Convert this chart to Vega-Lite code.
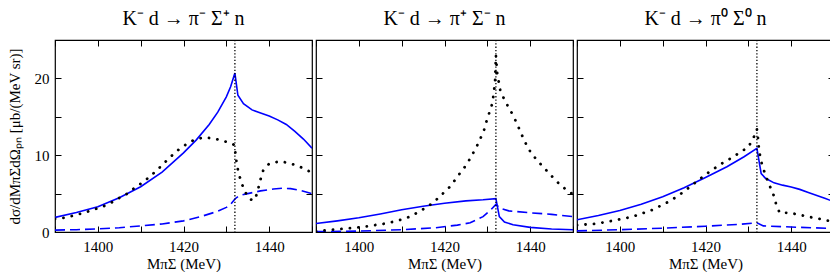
{
 "$schema": "https://vega.github.io/schema/vega-lite/v6.json",
 "padding": {"left": 6, "top": 8, "right": 0, "bottom": 0},
 "spacing": 0,
 "config": {
  "view": {"stroke": "black", "strokeWidth": 1.2},
  "axis": {"labelFont": "Liberation Serif", "titleFont": "Liberation Serif", "labelFontSize": 15, "titleFontSize": 15, "titleFontWeight": "normal", "labelColor": "black", "titleColor": "black", "tickColor": "black", "grid": false, "domain": false, "tickWidth": 1},
  "title": {"font": "Liberation Serif", "fontSize": 20, "fontWeight": "normal", "color": "black", "offset": 10}
 },
 "datasets": {
  "p1s": [{"x":1390,"y":1.9},{"x":1395,"y":2.55},{"x":1400,"y":3.3},{"x":1405,"y":4.45},{"x":1410,"y":5.9},{"x":1415,"y":7.8},{"x":1420,"y":10.3},{"x":1423,"y":12.0},{"x":1426,"y":14.0},{"x":1428,"y":15.6},{"x":1430,"y":17.6},{"x":1431,"y":18.9},{"x":1432,"y":20.7},{"x":1432.7,"y":17.8},{"x":1434,"y":16.7},{"x":1436,"y":15.9},{"x":1438,"y":15.5},{"x":1440,"y":15.1},{"x":1442,"y":14.6},{"x":1444,"y":14.0},{"x":1446,"y":13.1},{"x":1448,"y":12.1},{"x":1450,"y":10.9}],
  "p1d": [{"x":1390,"y":0.25},{"x":1395,"y":0.3},{"x":1400,"y":0.4},{"x":1405,"y":0.55},{"x":1410,"y":0.8},{"x":1415,"y":1.05},{"x":1420,"y":1.45},{"x":1424,"y":2.0},{"x":1428,"y":2.7},{"x":1430,"y":3.2},{"x":1431,"y":3.6},{"x":1432,"y":4.3},{"x":1433,"y":4.75},{"x":1435,"y":5.0},{"x":1438,"y":5.35},{"x":1441,"y":5.6},{"x":1443,"y":5.7},{"x":1445,"y":5.65},{"x":1447,"y":5.45},{"x":1450,"y":5.0}],
  "p1o": [{"x":1390,"y":1.7},{"x":1392.7,"y":1.9},{"x":1394.7,"y":2.2},{"x":1396.8,"y":2.5},{"x":1398.9,"y":2.9},{"x":1401.1,"y":3.3},{"x":1403.1,"y":3.8},{"x":1404.9,"y":4.4},{"x":1406.9,"y":5.0},{"x":1408.7,"y":5.8},{"x":1410.6,"y":6.5},{"x":1412.3,"y":7.3},{"x":1413.9,"y":8.1},{"x":1415.5,"y":9.0},{"x":1417.2,"y":9.9},{"x":1418.8,"y":10.7},{"x":1420.6,"y":11.4},{"x":1422.5,"y":12.0},{"x":1424.6,"y":12.3},{"x":1427,"y":12.2},{"x":1428.9,"y":11.9},{"x":1431.1,"y":11.6},{"x":1431.9,"y":11.3},{"x":1432.2,"y":9.9},{"x":1432.5,"y":8.6},{"x":1433,"y":7.4},{"x":1433.6,"y":6.3},{"x":1434.4,"y":5.2},{"x":1435.4,"y":4.3},{"x":1436.4,"y":4.1},{"x":1437.2,"y":5.0},{"x":1437.8,"y":6.5},{"x":1438.6,"y":8.0},{"x":1440,"y":8.9},{"x":1442.5,"y":9.2},{"x":1444.5,"y":9.0},{"x":1446.8,"y":8.6},{"x":1449,"y":8.0},{"x":1450,"y":7.7}],
  "p2s": [{"x":1390,"y":1.1},{"x":1395,"y":1.45},{"x":1400,"y":1.85},{"x":1405,"y":2.35},{"x":1410,"y":2.9},{"x":1415,"y":3.35},{"x":1420,"y":3.75},{"x":1425,"y":4.05},{"x":1429,"y":4.2},{"x":1432,"y":4.35},{"x":1432.8,"y":2.0},{"x":1434,"y":1.3},{"x":1436,"y":0.95},{"x":1440,"y":0.6},{"x":1445,"y":0.4},{"x":1450,"y":0.3}],
  "p2d": [{"x":1390,"y":0.05},{"x":1400,"y":0.12},{"x":1410,"y":0.3},{"x":1418,"y":0.55},{"x":1423,"y":0.9},{"x":1426,"y":1.2},{"x":1429,"y":2.0},{"x":1431,"y":3.0},{"x":1432,"y":3.6},{"x":1433,"y":3.1},{"x":1435,"y":2.75},{"x":1440,"y":2.5},{"x":1445,"y":2.3},{"x":1450,"y":2.0}],
  "p2o": [{"x":1390,"y":0.1},{"x":1392.8,"y":0.26},{"x":1395.1,"y":0.35},{"x":1397.3,"y":0.48},{"x":1399.4,"y":0.56},{"x":1401.5,"y":0.7},{"x":1403.7,"y":0.9},{"x":1405.9,"y":1.08},{"x":1408.1,"y":1.34},{"x":1410.2,"y":1.65},{"x":1412.3,"y":2.08},{"x":1414.2,"y":2.7},{"x":1416.1,"y":3.3},{"x":1417.9,"y":4.1},{"x":1419.6,"y":5.0},{"x":1421.1,"y":5.8},{"x":1422.5,"y":6.8},{"x":1423.8,"y":7.8},{"x":1425.2,"y":8.8},{"x":1426.3,"y":9.9},{"x":1427.4,"y":11.0},{"x":1428.4,"y":12.2},{"x":1429.2,"y":13.2},{"x":1429.8,"y":14.4},{"x":1430.5,"y":15.6},{"x":1431.2,"y":16.8},{"x":1431.5,"y":18.1},{"x":1431.8,"y":19.5},{"x":1432,"y":23.0},{"x":1432.3,"y":20.7},{"x":1433,"y":18.5},{"x":1434,"y":17.2},{"x":1435,"y":16.2},{"x":1436,"y":15.2},{"x":1437,"y":14.0},{"x":1438,"y":12.7},{"x":1439,"y":11.5},{"x":1440,"y":10.5},{"x":1441.5,"y":9.4},{"x":1443,"y":8.5},{"x":1444.5,"y":7.6},{"x":1446,"y":6.7},{"x":1447.5,"y":5.9},{"x":1449,"y":5.3},{"x":1450,"y":4.9}],
  "p3s": [{"x":1390,"y":1.6},{"x":1395,"y":2.15},{"x":1400,"y":2.8},{"x":1405,"y":3.6},{"x":1410,"y":4.6},{"x":1415,"y":5.75},{"x":1420,"y":7.1},{"x":1425,"y":8.5},{"x":1429,"y":9.8},{"x":1432,"y":10.9},{"x":1433,"y":7.6},{"x":1434,"y":7.0},{"x":1436,"y":6.4},{"x":1438,"y":6.1},{"x":1440,"y":5.85},{"x":1442,"y":5.55},{"x":1444,"y":5.15},{"x":1446,"y":4.75},{"x":1448,"y":4.35},{"x":1450,"y":3.95}],
  "p3d": [{"x":1390,"y":0.15},{"x":1400,"y":0.3},{"x":1410,"y":0.5},{"x":1420,"y":0.75},{"x":1428,"y":1.0},{"x":1432,"y":1.2},{"x":1433.5,"y":0.8},{"x":1440,"y":0.65},{"x":1450,"y":0.45}],
  "p3o": [{"x":1390,"y":0.9},{"x":1392.6,"y":1.0},{"x":1394.7,"y":1.1},{"x":1397,"y":1.34},{"x":1399.2,"y":1.56},{"x":1401.4,"y":1.8},{"x":1403.5,"y":2.1},{"x":1405.6,"y":2.5},{"x":1407.7,"y":2.9},{"x":1409.8,"y":3.5},{"x":1411.6,"y":4.0},{"x":1413.6,"y":4.7},{"x":1415.5,"y":5.5},{"x":1417.1,"y":6.2},{"x":1418.9,"y":7.0},{"x":1420.6,"y":7.7},{"x":1422.4,"y":8.4},{"x":1424.3,"y":9.1},{"x":1426.3,"y":9.7},{"x":1428.1,"y":10.4},{"x":1429.9,"y":11.0},{"x":1431.1,"y":12.1},{"x":1432,"y":13.4},{"x":1432.3,"y":12.0},{"x":1432.5,"y":10.7},{"x":1432.9,"y":9.4},{"x":1433.4,"y":8.4},{"x":1434.2,"y":7.1},{"x":1435,"y":6.0},{"x":1435.9,"y":4.8},{"x":1436.5,"y":3.6},{"x":1437.3,"y":2.5},{"x":1439.4,"y":2.5},{"x":1441.6,"y":2.3},{"x":1443.8,"y":2.0},{"x":1446,"y":1.8},{"x":1448.2,"y":1.5},{"x":1450,"y":1.4}]
 },
 "hconcat": [
  {
   "width": 257, "height": 192,
   "title": "K⁻ d → π⁻ Σ⁺ n",
   "layer": [
    {"data": {"name": "p1s"}, "mark": {"type": "line", "color": "#0000ff", "strokeWidth": 1.6, "clip": true},
     "encoding": {
      "x": {"field": "x", "type": "quantitative", "scale": {"domain": [1390, 1450], "nice": false, "zero": false},
            "axis": {"orient": "bottom", "values": [1390,1400,1410,1420,1430,1440,1450], "format": "d", "labelExpr": "datum.value % 20 == 0 ? datum.label : ''", "tickSize": -6, "labelPadding": 13, "title": "MπΣ (MeV)", "titlePadding": 2, "labelFont": "Liberation Serif", "titleFont": "Liberation Serif"}},
      "y": {"field": "y", "type": "quantitative", "scale": {"domain": [0, 25], "nice": false},
            "axis": {"orient": "left", "values": [0,5,10,15,20,25], "labelExpr": "datum.value % 10 == 0 ? datum.label : ''", "tickSize": -6, "labelPadding": 12, "titlePadding": 12, "title": "dσ/dMπΣdΩₚₙ [μb/(MeV sr)]", "labelFont": "Liberation Serif", "titleFont": "Liberation Serif"}}}},
    {"data": {"name": "p1d"}, "mark": {"type": "line", "color": "#0000ff", "strokeWidth": 1.6, "strokeDash": [10, 5], "clip": true},
     "encoding": {"x": {"field": "x", "type": "quantitative", "axis": null}, "y": {"field": "y", "type": "quantitative", "axis": null}}},
    {"data": {"name": "p1o"}, "mark": {"type": "line", "color": "black", "strokeWidth": 2.8, "strokeDash": [0.1, 8.4], "strokeCap": "round", "clip": true},
     "encoding": {"x": {"field": "x", "type": "quantitative", "axis": null}, "y": {"field": "y", "type": "quantitative", "axis": null}}},
    {"data": {"values": [{"x": 1432}]}, "mark": {"type": "rule", "color": "black", "strokeWidth": 1.3, "strokeDash": [1.3, 2]},
     "encoding": {"x": {"field": "x", "type": "quantitative", "axis": null}}},
    {"data": {"name": "p1s"}, "mark": {"type": "line", "opacity": 0},
     "encoding": {
      "x": {"field": "x", "type": "quantitative", "axis": {"orient": "top", "values": [1390,1400,1410,1420,1430,1440,1450], "labels": false, "tickSize": -6, "title": null}},
      "y": {"field": "y", "type": "quantitative", "axis": {"orient": "right", "values": [0,5,10,15,20,25], "labels": false, "tickSize": -6, "title": null}}}}
   ],
   "resolve": {"axis": {"x": "independent", "y": "independent"}}
  },
  {
   "width": 257, "height": 192,
   "title": "K⁻ d → π⁺ Σ⁻ n",
   "layer": [
    {"data": {"name": "p2s"}, "mark": {"type": "line", "color": "#0000ff", "strokeWidth": 1.6, "clip": true},
     "encoding": {
      "x": {"field": "x", "type": "quantitative", "scale": {"domain": [1390, 1450], "nice": false, "zero": false},
            "axis": {"orient": "bottom", "values": [1390,1400,1410,1420,1430,1440,1450], "format": "d", "labelExpr": "datum.value % 20 == 0 ? datum.label : ''", "tickSize": -6, "labelPadding": 13, "title": "MπΣ (MeV)", "titlePadding": 2, "labelFont": "Liberation Serif", "titleFont": "Liberation Serif"}},
      "y": {"field": "y", "type": "quantitative", "scale": {"domain": [0, 25], "nice": false},
            "axis": {"orient": "left", "values": [0,5,10,15,20,25], "labels": false, "tickSize": -6, "title": null}}}},
    {"data": {"name": "p2d"}, "mark": {"type": "line", "color": "#0000ff", "strokeWidth": 1.6, "strokeDash": [10, 5], "clip": true},
     "encoding": {"x": {"field": "x", "type": "quantitative", "axis": null}, "y": {"field": "y", "type": "quantitative", "axis": null}}},
    {"data": {"name": "p2o"}, "mark": {"type": "line", "color": "black", "strokeWidth": 2.8, "strokeDash": [0.1, 8.4], "strokeCap": "round", "clip": true},
     "encoding": {"x": {"field": "x", "type": "quantitative", "axis": null}, "y": {"field": "y", "type": "quantitative", "axis": null}}},
    {"data": {"values": [{"x": 1432}]}, "mark": {"type": "rule", "color": "black", "strokeWidth": 1.3, "strokeDash": [1.3, 2]},
     "encoding": {"x": {"field": "x", "type": "quantitative", "axis": null}}},
    {"data": {"name": "p2s"}, "mark": {"type": "line", "opacity": 0},
     "encoding": {
      "x": {"field": "x", "type": "quantitative", "axis": {"orient": "top", "values": [1390,1400,1410,1420,1430,1440,1450], "labels": false, "tickSize": -6, "title": null}},
      "y": {"field": "y", "type": "quantitative", "axis": {"orient": "right", "values": [0,5,10,15,20,25], "labels": false, "tickSize": -6, "title": null}}}}
   ],
   "resolve": {"axis": {"x": "independent", "y": "independent"}}
  },
  {
   "width": 257, "height": 192,
   "title": "K⁻ d → π⁰ Σ⁰ n",
   "layer": [
    {"data": {"name": "p3s"}, "mark": {"type": "line", "color": "#0000ff", "strokeWidth": 1.6, "clip": true},
     "encoding": {
      "x": {"field": "x", "type": "quantitative", "scale": {"domain": [1390, 1450], "nice": false, "zero": false},
            "axis": {"orient": "bottom", "values": [1390,1400,1410,1420,1430,1440,1450], "format": "d", "labelExpr": "datum.value % 20 == 0 ? datum.label : ''", "tickSize": -6, "labelPadding": 13, "title": "MπΣ (MeV)", "titlePadding": 2, "labelFont": "Liberation Serif", "titleFont": "Liberation Serif"}},
      "y": {"field": "y", "type": "quantitative", "scale": {"domain": [0, 25], "nice": false},
            "axis": {"orient": "left", "values": [0,5,10,15,20,25], "labels": false, "tickSize": -6, "title": null}}}},
    {"data": {"name": "p3d"}, "mark": {"type": "line", "color": "#0000ff", "strokeWidth": 1.6, "strokeDash": [10, 5], "clip": true},
     "encoding": {"x": {"field": "x", "type": "quantitative", "axis": null}, "y": {"field": "y", "type": "quantitative", "axis": null}}},
    {"data": {"name": "p3o"}, "mark": {"type": "line", "color": "black", "strokeWidth": 2.8, "strokeDash": [0.1, 8.4], "strokeCap": "round", "clip": true},
     "encoding": {"x": {"field": "x", "type": "quantitative", "axis": null}, "y": {"field": "y", "type": "quantitative", "axis": null}}},
    {"data": {"values": [{"x": 1432}]}, "mark": {"type": "rule", "color": "black", "strokeWidth": 1.3, "strokeDash": [1.3, 2]},
     "encoding": {"x": {"field": "x", "type": "quantitative", "axis": null}}},
    {"data": {"name": "p3s"}, "mark": {"type": "line", "opacity": 0},
     "encoding": {
      "x": {"field": "x", "type": "quantitative", "axis": {"orient": "top", "values": [1390,1400,1410,1420,1430,1440,1450], "labels": false, "tickSize": -6, "title": null}},
      "y": {"field": "y", "type": "quantitative", "axis": {"orient": "right", "values": [0,5,10,15,20,25], "labels": false, "tickSize": -6, "title": null}}}}
   ],
   "resolve": {"axis": {"x": "independent", "y": "independent"}}
  }
 ]
}
